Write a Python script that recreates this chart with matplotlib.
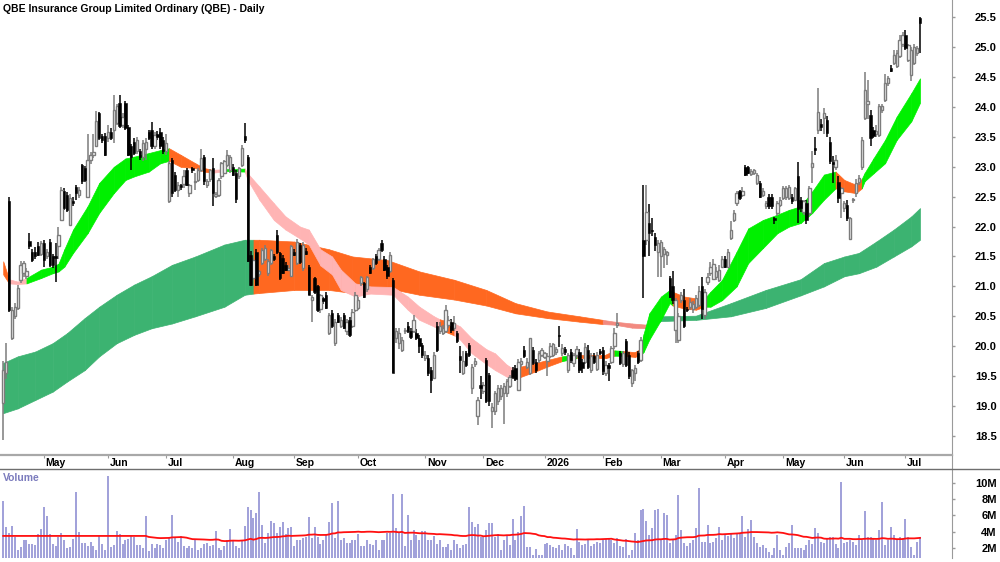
import numpy as np
import pandas as pd
import matplotlib
matplotlib.use("Agg")
import matplotlib.pyplot as plt
from matplotlib.lines import Line2D

plt.rcParams['font.family'] = ['Liberation Sans', 'DejaVu Sans']

TITLE = "QBE Insurance Group Limited Ordinary (QBE) - Daily"

asx_holidays = ["2025-04-18", "2025-04-21", "2025-04-25", "2025-06-09",
                "2025-12-25", "2025-12-26", "2026-01-01", "2026-01-26",
                "2026-04-03", "2026-04-06", "2026-06-08"]

opens = [
    19.05, 19.55, 22.42, 20.13, 20.50, 20.64, 21.11, 21.22, 21.17, 21.76,
    21.58, 21.58, 21.68, 21.55, 21.72, 21.50, 21.75, 21.50, 21.50, 21.67,
    22.11, 22.59, 22.53, 22.03, 22.42, 22.67, 22.53, 23.03, 22.98, 22.50,
    23.12, 23.20, 23.34, 23.90, 23.51, 23.51, 23.48, 23.59, 23.62, 23.73,
    24.07, 23.70, 24.07, 23.67, 23.34, 23.42, 23.26, 23.26, 23.17, 23.29,
    23.59, 23.62, 23.34, 23.55, 23.59, 23.45, 23.26, 22.42, 23.12, 22.87,
    22.62, 22.70, 22.72, 22.95, 22.56, 22.98, 22.75, 22.78, 22.95, 23.17,
    22.70, 22.80, 22.98, 22.52, 22.53, 22.84, 22.90, 23.03, 22.95, 23.00,
    22.89, 22.84, 23.03, 23.51, 23.17, 21.53, 21.14, 21.58, 21.20, 21.39,
    21.45, 21.22, 21.39, 21.50, 21.86, 21.56, 21.47, 21.36, 21.28, 21.17,
    21.58, 21.39, 21.69, 21.30, 21.60, 21.33, 20.78, 21.14, 21.00, 20.62,
    20.80, 20.86, 20.22, 20.55, 20.05, 20.52, 20.33, 20.52, 20.25, 20.44,
    20.33, 20.61, 20.64, 21.05, 21.05, 20.95, 21.33, 21.31, 21.50, 21.45,
    21.72, 21.45, 21.33, 21.25, 21.11, 20.14, 20.05, 19.94, 20.25, 20.33,
    20.25, 20.25, 20.22, 20.14, 20.02, 19.80, 19.80, 19.60, 19.47, 20.33,
    20.25, 20.22, 20.25, 20.36, 20.41, 20.30, 20.22, 19.83, 19.55, 19.88,
    20.02, 19.30, 19.70, 18.83, 19.35, 19.25, 19.77, 19.52, 18.91, 18.91,
    19.08, 19.16, 19.22, 19.22, 19.33, 19.60, 19.63, 19.27, 19.70, 19.94,
    19.66, 19.55, 19.94, 19.74, 19.77, 19.86, 19.82, 19.76, 19.83, 19.86,
    19.90, 20.18, 19.88, 19.95, 19.60, 19.91, 19.72, 19.85, 19.91, 19.74,
    19.74, 19.94, 19.60, 19.83, 19.62, 19.92, 19.94, 19.55, 19.68, 19.74,
    20.00, 20.36, 19.88, 19.70, 20.08, 19.86, 19.38, 19.55, 19.88, 19.77,
    21.78, 21.78, 22.06, 21.95, 21.83, 21.58, 21.50, 21.55, 21.53, 21.14,
    21.00, 20.27, 20.11, 20.77, 20.77, 20.62, 20.66, 20.62, 20.66, 20.69,
    21.00, 20.52, 21.08, 21.22, 21.12, 21.16, 21.11, 21.33, 21.45, 21.33,
    21.81, 22.11, 22.39, 22.59, 22.53, 23.00, 23.00, 22.88, 22.90, 22.73,
    22.73, 22.53, 22.34, 22.50, 22.50, 22.14, 22.22, 22.36, 22.48, 22.50,
    22.48, 22.50, 22.45, 22.85, 22.45, 22.25, 22.39, 22.22, 23.00, 23.31,
    23.62, 23.72, 23.81, 23.79, 23.42, 23.08, 23.00, 22.75, 22.56, 22.31,
    22.36, 21.80, 22.44, 22.56, 22.75, 23.00, 23.81, 24.05, 23.87, 23.62,
    23.55, 23.54, 23.95, 24.12, 24.40, 24.65, 24.74, 24.68, 24.85, 25.05,
    25.21, 24.79, 24.54, 24.74, 24.90, 25.49,
]
highs = [
    19.75, 20.05, 22.50, 20.66, 20.72, 21.02, 21.42, 21.42, 21.30, 21.89,
    21.62, 21.66, 21.74, 21.76, 21.78, 21.62, 21.80, 21.55, 21.72, 22.00,
    22.67, 22.65, 22.58, 22.55, 22.50, 22.70, 22.66, 23.05, 23.02, 23.55,
    23.25, 23.55, 23.93, 23.92, 23.55, 23.56, 23.70, 23.65, 24.20, 24.05,
    24.20, 23.90, 24.10, 23.70, 23.38, 23.48, 23.50, 23.30, 23.45, 23.48,
    23.62, 23.75, 23.58, 23.60, 23.65, 23.50, 23.55, 23.10, 23.15, 22.92,
    22.75, 22.72, 22.95, 22.98, 22.72, 23.00, 22.90, 22.98, 23.30, 23.20,
    22.80, 22.97, 23.15, 22.58, 22.82, 23.08, 23.12, 23.28, 23.20, 23.05,
    22.95, 23.00, 23.36, 23.73, 23.20, 21.60, 21.48, 21.62, 21.28, 21.65,
    21.70, 21.45, 21.62, 21.55, 21.95, 21.58, 21.52, 21.40, 21.35, 21.70,
    21.62, 21.80, 21.72, 21.75, 21.65, 21.36, 20.85, 21.16, 21.02, 20.88,
    20.82, 20.90, 20.55, 20.60, 20.45, 20.55, 20.48, 20.55, 20.45, 20.48,
    20.62, 20.90, 20.82, 21.18, 21.08, 21.18, 21.36, 21.48, 21.55, 21.65,
    21.78, 21.50, 21.36, 21.58, 21.14, 20.30, 20.30, 20.15, 20.30, 20.40,
    20.30, 20.52, 20.28, 20.18, 20.05, 19.92, 19.85, 19.65, 19.90, 20.40,
    20.40, 20.35, 20.69, 20.50, 20.45, 20.50, 20.26, 20.00, 19.92, 19.92,
    20.06, 19.70, 19.80, 19.15, 19.50, 19.40, 19.80, 19.55, 19.05, 19.25,
    19.35, 19.35, 19.38, 19.45, 19.52, 19.65, 19.68, 19.78, 19.80, 20.00,
    19.80, 20.13, 19.98, 19.78, 19.92, 19.97, 19.90, 19.88, 20.05, 20.06,
    19.98, 20.33, 20.03, 19.98, 19.88, 19.95, 19.88, 20.00, 19.95, 19.78,
    20.05, 20.02, 19.88, 19.88, 19.90, 19.96, 19.98, 19.75, 19.72, 20.00,
    20.30, 20.56, 19.92, 19.92, 20.12, 19.90, 19.62, 19.68, 19.92, 20.15,
    22.70, 22.70, 22.38, 22.15, 21.90, 21.78, 21.78, 21.66, 21.60, 21.18,
    21.25, 20.80, 20.55, 20.90, 20.95, 20.66, 20.80, 20.76, 20.85, 21.00,
    21.15, 20.95, 21.22, 21.40, 21.45, 21.32, 21.35, 21.50, 21.50, 21.62,
    22.10, 22.28, 22.60, 22.62, 22.66, 23.03, 23.02, 22.96, 22.97, 22.90,
    22.76, 22.64, 22.42, 22.55, 22.55, 22.16, 22.42, 22.50, 22.68, 22.68,
    22.70, 22.55, 22.66, 23.08, 22.50, 22.45, 22.44, 22.68, 23.26, 23.50,
    24.32, 23.80, 23.98, 23.85, 23.50, 23.18, 23.20, 22.85, 22.66, 22.42,
    22.45, 22.16, 22.48, 22.80, 22.86, 23.50, 24.59, 24.45, 23.95, 23.66,
    23.70, 24.05, 24.05, 24.55, 24.52, 24.70, 24.95, 24.95, 25.20, 25.25,
    25.28, 25.06, 25.00, 25.05, 25.02, 25.50,
]
lows = [
    18.43, 19.45, 20.58, 20.10, 20.45, 20.60, 21.05, 21.15, 21.12, 21.62,
    21.40, 21.46, 21.50, 21.50, 21.33, 21.45, 21.33, 21.30, 21.08, 21.45,
    22.10, 22.28, 22.25, 22.03, 22.35, 22.45, 22.48, 22.72, 22.75, 22.48,
    23.05, 23.15, 23.33, 23.45, 23.40, 23.18, 23.42, 23.45, 23.40, 23.70,
    23.65, 23.65, 23.62, 23.18, 22.95, 23.20, 23.22, 23.12, 23.10, 23.12,
    23.45, 23.30, 23.30, 23.45, 23.30, 23.22, 23.20, 22.40, 22.50, 22.58,
    22.50, 22.62, 22.65, 22.68, 22.50, 22.90, 22.62, 22.75, 22.92, 22.70,
    22.65, 22.75, 22.34, 22.48, 22.50, 22.80, 22.88, 23.00, 22.90, 22.85,
    22.40, 22.80, 23.00, 23.40, 21.40, 21.00, 21.10, 21.00, 21.15, 21.35,
    21.42, 21.18, 21.36, 21.42, 21.55, 21.10, 21.20, 21.25, 21.25, 21.15,
    21.50, 21.35, 21.38, 21.25, 21.52, 20.86, 20.40, 20.88, 20.58, 20.55,
    20.70, 20.62, 20.18, 20.30, 20.00, 20.38, 20.30, 20.28, 20.18, 20.15,
    20.30, 20.58, 20.60, 21.00, 20.80, 20.90, 21.20, 21.28, 21.36, 21.42,
    21.58, 21.25, 21.12, 21.22, 19.55, 20.05, 19.95, 19.90, 20.20, 20.22,
    20.12, 20.22, 20.10, 19.88, 19.80, 19.75, 19.50, 19.22, 19.45, 19.90,
    20.20, 20.18, 20.22, 20.30, 20.22, 20.25, 20.05, 19.55, 19.52, 19.65,
    19.82, 19.20, 19.65, 18.69, 19.12, 19.20, 19.05, 19.00, 18.63, 18.85,
    19.02, 19.10, 18.70, 19.15, 19.30, 19.45, 19.42, 19.25, 19.65, 19.80,
    19.62, 19.52, 19.68, 19.55, 19.72, 19.82, 19.78, 19.50, 19.80, 19.82,
    19.85, 19.99, 19.84, 19.85, 19.55, 19.72, 19.65, 19.80, 19.55, 19.55,
    19.70, 19.62, 19.55, 19.70, 19.58, 19.85, 19.52, 19.50, 19.41, 19.70,
    19.96, 20.30, 19.68, 19.65, 19.66, 19.45, 19.32, 19.42, 19.70, 19.74,
    20.80, 21.70, 21.50, 21.85, 21.60, 21.15, 21.15, 21.30, 21.35, 20.80,
    20.70, 20.05, 20.05, 20.72, 20.30, 20.58, 20.60, 20.55, 20.62, 20.66,
    20.45, 20.45, 21.03, 21.18, 21.10, 21.10, 21.08, 21.30, 21.30, 21.30,
    21.78, 22.08, 22.35, 22.45, 22.50, 22.85, 22.88, 22.85, 22.86, 22.70,
    22.48, 22.50, 22.30, 22.30, 22.30, 22.05, 22.18, 22.33, 22.45, 22.45,
    22.44, 22.38, 22.42, 22.06, 22.25, 22.20, 22.05, 22.18, 22.73, 23.20,
    23.55, 23.60, 23.55, 23.50, 23.05, 22.73, 22.95, 22.40, 22.15, 22.25,
    22.10, 21.78, 22.40, 22.50, 22.70, 22.95, 23.78, 23.80, 23.34, 23.48,
    23.50, 23.50, 23.90, 24.08, 24.35, 24.58, 24.70, 24.65, 24.82, 25.00,
    24.95, 24.75, 24.43, 24.70, 24.85, 24.90,
]
closes = [
    19.60, 19.74, 20.61, 20.61, 20.66, 20.97, 21.36, 21.39, 21.25, 21.67,
    21.44, 21.50, 21.53, 21.72, 21.44, 21.58, 21.36, 21.36, 21.48, 21.86,
    22.62, 22.31, 22.28, 22.48, 22.39, 22.56, 22.62, 22.76, 22.78, 23.12,
    23.20, 23.25, 23.76, 23.48, 23.45, 23.20, 23.59, 23.48, 23.95, 24.01,
    23.68, 23.84, 23.65, 23.20, 23.17, 23.23, 23.45, 23.17, 23.40, 23.42,
    23.48, 23.34, 23.54, 23.50, 23.34, 23.26, 23.40, 23.06, 22.56, 22.62,
    22.70, 22.66, 22.84, 22.70, 22.70, 22.95, 22.77, 22.95, 23.14, 22.76,
    22.76, 22.95, 22.56, 22.55, 22.78, 23.06, 23.09, 23.20, 23.17, 22.87,
    22.47, 22.98, 23.31, 23.45, 21.42, 21.03, 21.44, 21.03, 21.25, 21.61,
    21.64, 21.42, 21.61, 21.45, 21.58, 21.14, 21.22, 21.28, 21.31, 21.67,
    21.53, 21.75, 21.41, 21.70, 21.55, 20.86, 20.82, 20.90, 20.61, 20.86,
    20.76, 20.64, 20.52, 20.33, 20.41, 20.41, 20.44, 20.30, 20.41, 20.19,
    20.58, 20.86, 20.78, 21.16, 20.83, 21.16, 21.22, 21.45, 21.39, 21.61,
    21.61, 21.28, 21.17, 21.53, 19.55, 20.25, 20.22, 20.10, 20.27, 20.25,
    20.16, 20.44, 20.14, 20.00, 19.86, 19.86, 19.55, 19.44, 19.86, 19.94,
    20.33, 20.30, 20.61, 20.44, 20.27, 20.38, 20.08, 19.77, 19.75, 19.69,
    19.86, 19.66, 19.76, 19.10, 19.30, 19.35, 19.08, 19.08, 18.99, 19.22,
    19.30, 19.30, 19.33, 19.41, 19.49, 19.49, 19.45, 19.74, 19.75, 19.83,
    19.74, 20.13, 19.72, 19.60, 19.88, 19.94, 19.88, 19.84, 20.00, 20.03,
    19.95, 20.17, 19.97, 19.90, 19.86, 19.77, 19.85, 19.96, 19.60, 19.63,
    19.99, 19.66, 19.83, 19.74, 19.86, 19.88, 19.58, 19.69, 19.64, 19.97,
    20.22, 20.39, 19.72, 19.88, 19.69, 19.50, 19.60, 19.64, 19.74, 20.10,
    21.50, 22.25, 21.89, 21.93, 21.70, 21.72, 21.75, 21.62, 21.58, 20.83,
    20.78, 20.77, 20.50, 20.86, 20.33, 20.60, 20.74, 20.70, 20.80, 20.92,
    20.63, 20.90, 21.16, 21.33, 21.38, 21.25, 21.28, 21.45, 21.33, 21.58,
    21.95, 22.22, 22.56, 22.48, 22.60, 22.87, 22.90, 22.93, 22.94, 22.87,
    22.50, 22.60, 22.39, 22.34, 22.34, 22.11, 22.39, 22.45, 22.64, 22.64,
    22.66, 22.42, 22.64, 22.30, 22.31, 22.42, 22.11, 22.64, 23.06, 23.28,
    23.92, 23.67, 23.90, 23.56, 23.09, 23.05, 23.12, 22.48, 22.64, 22.39,
    22.14, 22.14, 22.45, 22.73, 22.82, 23.45, 24.29, 24.10, 23.48, 23.51,
    23.60, 24.01, 24.01, 24.40, 24.48, 24.60, 24.87, 24.90, 25.12, 25.20,
    24.99, 25.04, 24.96, 25.01, 24.99, 25.40,
]

# volume in millions of shares
volume_m = [
    7.80, 4.55, 3.81, 4.75, 3.40, 1.75, 2.16, 2.98, 2.98, 2.49,
    2.49, 2.37, 3.73, 4.30, 7.01, 5.94, 3.68, 2.49, 2.25, 3.40,
    3.81, 2.98, 1.96, 2.08, 3.07, 8.81, 4.01, 2.57, 2.57, 2.25,
    2.78, 2.25, 1.75, 3.52, 2.49, 1.75, 10.78, 2.16, 2.37, 4.14,
    3.73, 2.49, 2.98, 3.07, 3.60, 3.31, 2.37, 2.37, 1.96, 5.86,
    1.67, 2.49, 1.96, 2.49, 2.37, 1.96, 2.98, 3.19, 6.07, 3.19,
    2.78, 3.48, 2.25, 1.96, 2.25, 1.96, 3.15, 1.75, 1.96, 2.49,
    2.57, 2.25, 2.37, 4.09, 1.96, 1.75, 2.25, 2.98, 4.30, 2.98,
    2.25, 1.96, 2.98, 4.71, 7.01, 6.60, 5.65, 6.27, 8.81, 4.83,
    2.66, 3.81, 5.33, 5.04, 3.89, 4.55, 5.24, 3.73, 4.42, 4.55,
    2.25, 2.98, 2.98, 3.19, 3.40, 5.78, 3.19, 4.55, 3.40, 2.49,
    2.98, 3.60, 5.24, 7.50, 3.19, 7.70, 2.98, 3.19, 2.66, 2.66,
    2.98, 2.98, 3.73, 2.25, 2.25, 2.98, 2.49, 2.37, 2.98, 1.75,
    2.98, 2.98, 3.89, 3.89, 8.65, 4.42, 3.89, 8.65, 2.25, 6.07,
    2.98, 4.22, 3.60, 2.98, 4.14, 4.14, 2.98, 2.98, 3.48, 2.49,
    2.98, 2.08, 2.08, 2.49, 1.75, 2.98, 2.49, 1.96, 2.37, 2.49,
    7.01, 5.24, 4.63, 4.96, 3.40, 3.40, 4.22, 5.12, 5.12, 3.40,
    3.73, 1.75, 2.98, 3.60, 2.37, 5.53, 2.98, 4.01, 5.86, 7.09,
    2.16, 2.16, 1.14, 1.83, 1.14, 1.14, 2.49, 2.66, 2.37, 2.16,
    1.96, 2.37, 1.75, 2.49, 2.25, 1.96, 1.14, 4.30, 2.78, 2.37,
    2.49, 2.98, 2.25, 2.49, 2.78, 2.66, 2.98, 3.07, 3.19, 2.98,
    2.57, 3.19, 2.25, 2.16, 3.07, 1.14, 1.75, 3.81, 2.98, 6.68,
    6.80, 5.33, 3.60, 4.42, 6.68, 6.80, 2.98, 6.27, 6.07, 2.57,
    2.98, 3.60, 8.52, 4.22, 2.57, 2.25, 2.57, 2.98, 4.42, 9.34,
    2.78, 2.78, 4.83, 2.57, 2.78, 3.19, 4.55, 2.98, 3.68, 3.48,
    3.73, 3.19, 3.81, 3.68, 5.94, 3.40, 4.30, 5.45, 3.40, 2.57,
    2.16, 2.37, 1.96, 1.55, 1.14, 1.96, 3.60, 1.75, 1.14, 2.16,
    2.57, 4.83, 1.96, 1.96, 1.96, 1.75, 2.37, 2.98, 2.49, 4.42,
    3.81, 2.78, 2.57, 3.19, 3.40, 3.40, 2.49, 1.96, 10.04, 2.57,
    2.78, 2.98, 2.78, 2.37, 3.60, 2.98, 6.48, 3.40, 3.40, 3.07,
    2.98, 4.22, 7.58, 2.37, 2.98, 4.55, 3.60, 3.07, 3.40, 3.19,
    5.53, 3.31, 2.16, 1.14, 2.78, 3.31,
]

# short-term ribbon: day index, upper, lower, tone
short_idx = [0, 2, 5, 8, 13, 17, 19, 21, 24, 29,
             33, 38, 42, 45, 50, 54, 57, 61, 66, 69,
             72, 76, 83, 84, 88, 93, 97, 102, 105, 109,
             113, 116, 121, 126, 134, 139, 143, 148, 150, 155,
             157, 161, 166, 169, 173, 176, 178, 183, 187, 192,
             197, 202, 207, 210, 213, 217, 219, 220, 222, 226,
             229, 230, 234, 238, 241, 243, 247, 252, 256, 261,
             266, 270, 274, 278, 282, 286, 289, 293, 295, 296,
             299, 303, 307, 312, 315]
short_hi = [21.42, 21.12, 21.08, 21.14, 21.28, 21.33, 21.38, 21.62, 21.95, 22.34,
            22.73, 23.00, 23.14, 23.17, 23.23, 23.28, 23.31, 23.20, 23.06, 22.98,
            22.95, 22.96, 22.97, 22.89, 22.67, 22.39, 22.17, 22.00, 21.95, 21.62,
            21.50, 21.28, 21.05, 21.00, 20.99, 20.83, 20.66, 20.50, 20.45, 20.38,
            20.33, 20.13, 19.95, 19.88, 19.69, 19.60, 19.66, 19.72, 19.77, 19.83,
            19.86, 19.86, 19.86, 19.93, 19.92, 19.90, 19.96, 20.20, 20.55, 20.83,
            20.94, 20.91, 20.83, 20.80, 20.80, 20.91, 21.11, 21.58, 21.97, 22.11,
            22.20, 22.28, 22.34, 22.59, 22.87, 22.92, 22.78, 22.70, 22.80, 22.90,
            23.14, 23.45, 23.84, 24.23, 24.48]
short_lo = [21.20, 21.05, 21.04, 21.05, 21.14, 21.22, 21.25, 21.33, 21.56, 21.89,
            22.23, 22.56, 22.78, 22.84, 22.92, 23.06, 23.10, 23.00, 22.98, 22.92,
            22.90, 22.93, 22.92, 22.78, 22.45, 22.11, 21.95, 21.80, 21.70, 21.35,
            21.20, 20.94, 20.83, 20.88, 20.86, 20.61, 20.44, 20.33, 20.28, 20.18,
            20.11, 19.88, 19.70, 19.60, 19.49, 19.47, 19.49, 19.58, 19.66, 19.75,
            19.80, 19.80, 19.80, 19.84, 19.84, 19.82, 19.85, 19.90, 20.11, 20.44,
            20.72, 20.68, 20.63, 20.61, 20.66, 20.66, 20.77, 21.00, 21.39, 21.64,
            21.89, 22.00, 22.06, 22.23, 22.45, 22.64, 22.59, 22.56, 22.64, 22.76,
            22.89, 23.06, 23.45, 23.76, 24.07]
short_tone = ("opp" "ggggggggggggg" "oooo" "p" "g" "pppppppppppppppp" "o"
              "pppppp" "oooo" "g" "ooo" "g" "oo" "ggggg" "ooo"
              "ggggggggggg" "ooo" "ggggggg")

# long-term ribbon
long_idx = [0, 5, 11, 17, 22, 28, 33, 39, 45, 51,
            58, 66, 76, 83, 86, 88, 100, 112, 120, 132,
            143, 155, 166, 176, 187, 198, 206, 210, 216, 221,
            223, 226, 238, 250, 262, 274, 282, 289, 294, 300,
            306, 312, 315]
long_hi = [19.72, 19.83, 19.91, 20.05, 20.22, 20.47, 20.66, 20.86, 21.03, 21.17,
           21.36, 21.50, 21.70, 21.78, 21.78, 21.78, 21.75, 21.62, 21.50, 21.44,
           21.25, 21.11, 20.94, 20.72, 20.58, 20.50, 20.44, 20.41, 20.38, 20.36,
           20.42, 20.50, 20.51, 20.72, 20.94, 21.12, 21.39, 21.50, 21.56, 21.75,
           21.95, 22.17, 22.31]
long_lo = [18.88, 18.96, 19.10, 19.24, 19.41, 19.60, 19.83, 20.05, 20.19, 20.30,
           20.38, 20.50, 20.66, 20.86, 20.88, 20.89, 20.94, 20.94, 20.89, 20.97,
           20.86, 20.78, 20.68, 20.55, 20.47, 20.41, 20.37, 20.36, 20.31, 20.30,
           20.36, 20.42, 20.44, 20.50, 20.64, 20.85, 21.00, 21.17, 21.22, 21.33,
           21.50, 21.67, 21.78]
long_tone = "ssssssssssssss" "oooooooooooo" "rrrr" "sssssssssssss"

palette = {'g': '#00f000', 'o': '#ff6820', 'p': '#ffb4b4',
           's': '#3cb371', 'r': '#f28a80'}
GRID = '#9a9a9a'
UP_EDGE = '#7c7c7c'


def draw_ribbon(ax, idx, hi, lo, tones):
    for k in range(len(idx) - 1):
        col = palette[tones[k]]
        ax.fill_between(idx[k:k + 2], lo[k:k + 2], hi[k:k + 2],
                        facecolor=col, edgecolor=col, linewidth=0.5, zorder=1)


dates = pd.bdate_range("2025-04-08", "2026-07-08", freq="C", holidays=asx_holidays)
o, h, l, c = (np.array(a) for a in (opens, highs, lows, closes))
x = np.arange(len(c))
dates = dates[:len(c)]

fig = plt.figure(figsize=(10, 5.62), dpi=100)
ax = fig.add_axes([0, 107 / 562, 0.952, 455 / 562])
band = fig.add_axes([0, 93 / 562, 0.952, 14 / 562])
vax = fig.add_axes([0, 4 / 562, 0.952, 89 / 562])

xlim = (-1.1, 326)

# ribbons
draw_ribbon(ax, long_idx, long_hi, long_lo, long_tone)
draw_ribbon(ax, short_idx, short_hi, short_lo, short_tone)

# candles
up = c >= o
body_lo = np.minimum(o, c)
body_h = np.maximum(np.abs(c - o), 0.015)
ax.vlines(x[up], l[up], h[up], color=UP_EDGE, lw=1.1, zorder=3)
ax.vlines(x[~up], l[~up], h[~up], color='black', lw=1.1, zorder=3)
ax.bar(x[up], body_h[up], bottom=body_lo[up], width=0.8,
       facecolor='white', edgecolor=UP_EDGE, linewidth=1.0, zorder=4)
ax.bar(x[~up], body_h[~up], bottom=body_lo[~up], width=0.8,
       color='black', edgecolor='black', linewidth=0.4, zorder=4)

ax.set_xlim(*xlim)
ax.set_ylim(18.18, 25.79)
ax.set_xticks([])
ax.yaxis.tick_right()
yt = np.arange(18.5, 25.51, 0.5)
ax.set_yticks(yt)
ax.set_yticklabels([f"{v:.1f}" for v in yt], fontsize=8, fontweight='bold', ha='right')
ax.tick_params(axis='y', direction='out', length=2.2, width=1, color=GRID, pad=30)
for s in ('top', 'left', 'bottom'):
    ax.spines[s].set_visible(False)
ax.spines['right'].set_color(GRID)

fig.text(0.003, 1 - 9 / 562, TITLE, fontsize=7.5, fontweight='bold', va='center', ha='left')

# month band
month_start = [i for i in range(len(dates)) if i > 0 and dates[i].month != dates[i - 1].month]
band.set_xlim(*xlim)
band.set_ylim(0, 1)
band.set_yticks([])
band.set_xticks(month_start)
band.tick_params(axis='x', top=True, bottom=False, direction='in', length=2.5,
                 color=GRID, labelbottom=False, labeltop=False)
for s in ('left', 'bottom'):
    band.spines[s].set_visible(False)
band.spines['top'].set_color('#a8a8a8')
band.spines['top'].set_linewidth(1.6)
band.spines['right'].set_color(GRID)
for i in month_start:
    d = dates[i]
    lab = str(d.year) if d.month == 1 else d.strftime('%b')
    band.text(i + 0.6, 0.4, lab, fontsize=7.5, fontweight='bold', ha='left', va='center')
fig.add_artist(Line2D([0, 1], [93 / 562, 93 / 562], transform=fig.transFigure,
                      color='#6e6e6e', lw=1))

# volume
vol = np.array(volume_m)
vx = np.arange(len(vol))
vax.vlines(vx, 0, vol, color='#8686d0', lw=1.1, zorder=2)
vol_ma = pd.Series(vol).rolling(50).mean().bfill()
vax.plot(vx, vol_ma, color='#ff1010', lw=1.3, zorder=3)
vax.set_xlim(*xlim)
vax.set_ylim(0.79, 11.65)
vax.set_xticks([])
vax.yaxis.tick_right()
vax.set_yticks([2, 4, 6, 8, 10])
vax.set_yticklabels(['2M', '4M', '6M', '8M', '10M'], fontsize=8, fontweight='bold', ha='right')
vax.tick_params(axis='y', direction='out', length=2.2, width=1, color=GRID, pad=30)
for s in ('top', 'left', 'bottom'):
    vax.spines[s].set_visible(False)
vax.spines['right'].set_color(GRID)
vax.text(0.003, 0.9, 'Volume', transform=vax.transAxes, color='#7b7bbd',
         fontsize=7.5, fontweight='bold', ha='left', va='center')

fig.savefig('out.png', dpi=100)
